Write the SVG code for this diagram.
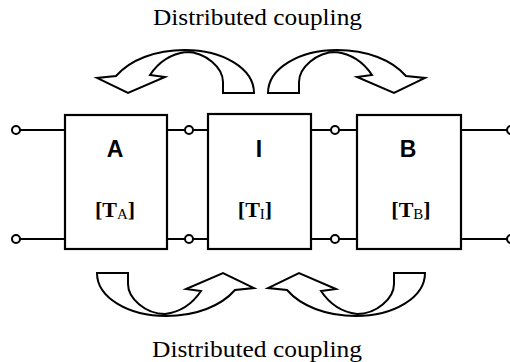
<svg xmlns="http://www.w3.org/2000/svg" xmlns:xlink="http://www.w3.org/1999/xlink" width="510" height="362" viewBox="0 0 510 362">
  <style>
    .box { fill: #fff; stroke: #000; stroke-width: 2.2; }
    .wire { stroke: #000; stroke-width: 2; fill: none; }
    .term { fill: #fff; stroke: #000; stroke-width: 2; }
    .arrow { fill: #fff; stroke: #000; stroke-width: 2; stroke-linejoin: miter; }
    .cap { font-family: "Liberation Serif", "Times New Roman", serif; font-size: 23px; fill: #000; }
    .name { font-family: "Liberation Sans", Arial, sans-serif; font-weight: bold; font-size: 23px; fill: #000; text-anchor: middle; }
    .mat { font-family: "Liberation Serif", "Times New Roman", serif; font-weight: bold; font-size: 22px; fill: #000; text-anchor: middle; }
    .sub { font-weight: normal; font-size: 15px; }
  </style>
  <defs>
    <path id="carrow" class="arrow" d="M 254,93 C 254,68 222,50 185,50 C 155,50 130,60 116,76 L 97,78 L 128,93 L 165,77 L 150,75 C 158,63 170,54 186,52 C 206,52 223,68 223,82 L 223,93 Z"/>
  </defs>

  <rect width="510" height="362" fill="#fff"/>

  <text class="cap" x="153" y="25" textLength="209" lengthAdjust="spacingAndGlyphs">Distributed coupling</text>
  <text class="cap" x="152" y="357" textLength="210" lengthAdjust="spacingAndGlyphs">Distributed coupling</text>

  <g id="connectors">
    <line class="wire" x1="20" y1="130" x2="65" y2="130"/>
    <line class="wire" x1="20" y1="239" x2="65" y2="239"/>
    <line class="wire" x1="167" y1="130" x2="208" y2="130"/>
    <line class="wire" x1="167" y1="239" x2="208" y2="239"/>
    <line class="wire" x1="311" y1="130" x2="357" y2="130"/>
    <line class="wire" x1="311" y1="239" x2="357" y2="239"/>
    <line class="wire" x1="461" y1="130" x2="507" y2="130"/>
    <line class="wire" x1="461" y1="239" x2="507" y2="239"/>
    <circle class="term" cx="16" cy="130" r="4"/>
    <circle class="term" cx="16" cy="239" r="4"/>
    <circle class="term" cx="189" cy="130" r="4"/>
    <circle class="term" cx="189" cy="239" r="4"/>
    <circle class="term" cx="335" cy="130" r="4"/>
    <circle class="term" cx="335" cy="239" r="4"/>
    <circle class="term" cx="511" cy="130" r="4"/>
    <circle class="term" cx="511" cy="239" r="4"/>
  </g>

  <g id="couplings">
    <use xlink:href="#carrow"/>
    <use xlink:href="#carrow" transform="translate(522,0) scale(-1,1)"/>
    <use xlink:href="#carrow" transform="translate(351,366) scale(-1,-1)"/>
    <use xlink:href="#carrow" transform="translate(171,366) scale(1,-1)"/>
  </g>

  <g id="nodeA">
    <rect class="box" x="65" y="115" width="102" height="134"/>
    <text class="name" x="115" y="157">A</text>
    <text class="mat" x="115" y="217">[T<tspan class="sub" dy="2">A</tspan><tspan dy="-2">]</tspan></text>
  </g>
  <g id="nodeI">
    <rect class="box" x="208" y="114" width="103" height="135"/>
    <text class="name" x="259" y="157">I</text>
    <text class="mat" x="255" y="217">[T<tspan class="sub" dy="2">I</tspan><tspan dy="-2">]</tspan></text>
  </g>
  <g id="nodeB">
    <rect class="box" x="357" y="115" width="104" height="134"/>
    <text class="name" x="408" y="157">B</text>
    <text class="mat" x="411" y="217">[T<tspan class="sub" dy="2">B</tspan><tspan dy="-2">]</tspan></text>
  </g>
</svg>
